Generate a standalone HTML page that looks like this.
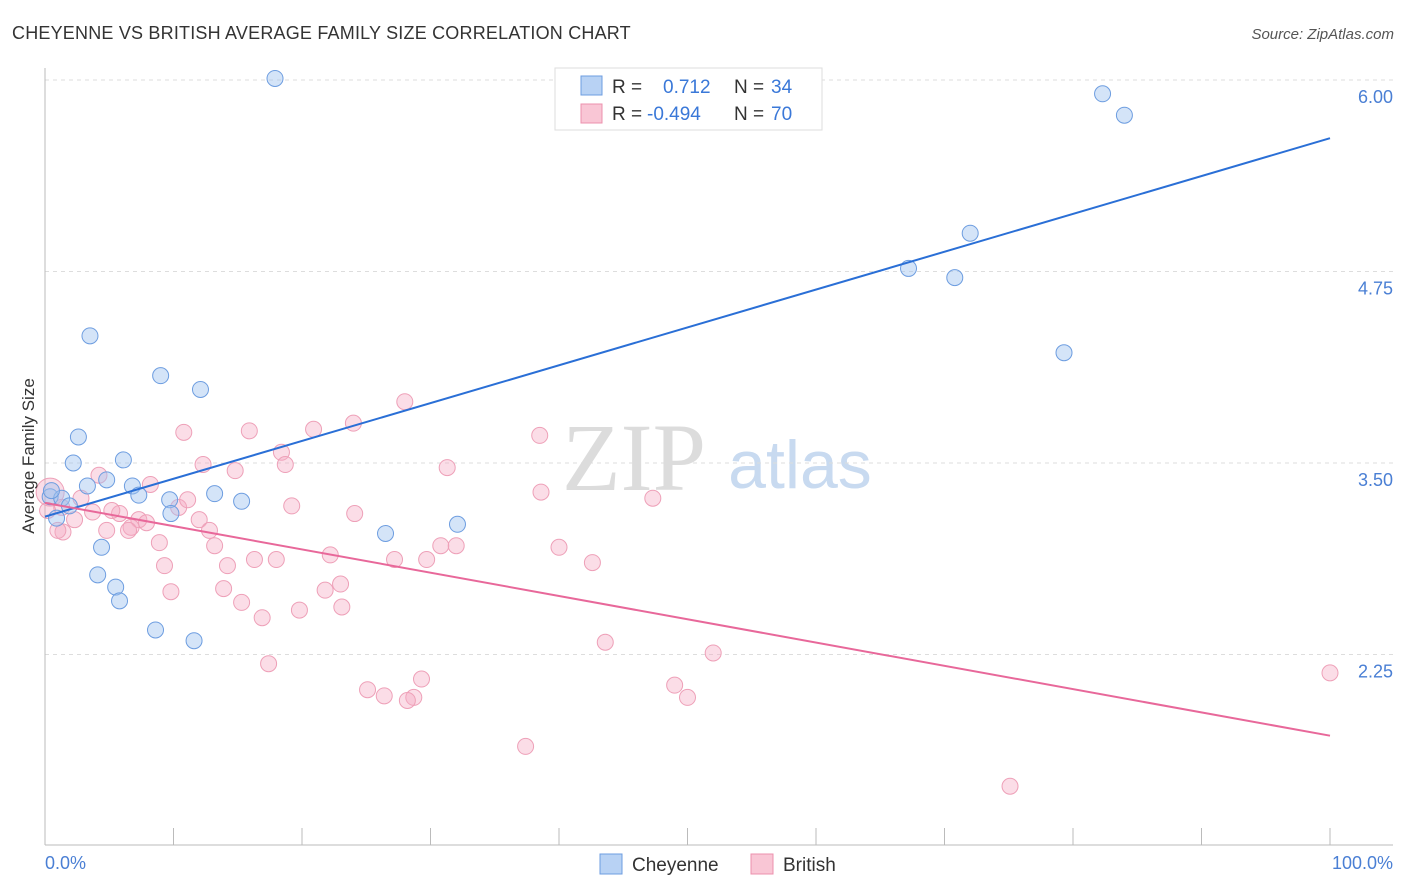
<!DOCTYPE html>
<html><head><meta charset="utf-8"><style>
body{margin:0;background:#fff;font-family:"Liberation Sans",sans-serif;}
svg{display:block}
</style></head><body>
<svg id="c" width="1406" height="892" xmlns="http://www.w3.org/2000/svg">
<text x="12" y="39" font-size="18" fill="#333" letter-spacing="0.2">CHEYENNE VS BRITISH AVERAGE FAMILY SIZE CORRELATION CHART</text>
<text x="1394" y="39" font-size="15" fill="#555" font-style="italic" text-anchor="end">Source: ZipAtlas.com</text>
<text x="634" y="490" font-size="96" fill="#dcdcdc" font-family="Liberation Serif,serif" text-anchor="middle">ZIP</text>
<text x="800" y="488" font-size="68" fill="#c8daf0" text-anchor="middle">atlas</text>
<g id="grid"></g><g id="axes"></g><g id="pts"></g><g id="lines"></g>
<text x="34" y="456" font-size="17" fill="#333" transform="rotate(-90 34 456)" text-anchor="middle">Average Family Size</text>
<text x="45" y="869" font-size="18" fill="#4a7fd4">0.0%</text>
<text x="1393" y="869" font-size="18" fill="#4a7fd4" text-anchor="end">100.0%</text>
<g>
<rect x="555" y="68" width="267" height="62" fill="#fff" stroke="#ddd"/>
<rect x="581" y="76" width="21" height="19" fill="#b8d2f4" stroke="#6d9de0"/>
<rect x="581" y="104" width="21" height="19" fill="#f9c6d5" stroke="#ec90ad"/>
<text x="612" y="93" font-size="19" fill="#333">R = </text><text x="663" y="93" font-size="19" fill="#3a78d8">0.712</text>
<text x="734" y="93" font-size="19" fill="#333">N = </text><text x="771" y="93" font-size="19" fill="#3a78d8">34</text>
<text x="612" y="120" font-size="19" fill="#333">R = </text><text x="647" y="120" font-size="19" fill="#3a78d8">-0.494</text>
<text x="734" y="120" font-size="19" fill="#333">N = </text><text x="771" y="120" font-size="19" fill="#3a78d8">70</text>
</g>
<g>
<rect x="600" y="854" width="22" height="20" fill="#b8d2f4" stroke="#6d9de0"/>
<text x="632" y="871" font-size="19" fill="#333">Cheyenne</text>
<rect x="751" y="854" width="22" height="20" fill="#f9c6d5" stroke="#ec90ad"/>
<text x="783" y="871" font-size="19" fill="#333">British</text>
</g>
</svg>
<script>
const yTicks=[6.00,4.75,3.50,2.25];
const cheyX=[17.9,82.3,84.0,72.0,67.2,70.8,79.3,3.5,9.0,12.1,2.6,2.2,6.1,4.8,3.3,6.8,7.3,0.4,1.3,1.9,13.2,15.3,9.7,9.8,0.9,32.1,26.5,4.4,4.1,5.5,5.8,8.6,11.6,0.5];
const cheyY=[6.01,5.91,5.77,5.00,4.77,4.71,4.22,4.33,4.07,3.98,3.67,3.50,3.52,3.39,3.35,3.35,3.29,3.28,3.27,3.22,3.30,3.25,3.26,3.17,3.14,3.10,3.04,2.95,2.77,2.69,2.60,2.41,2.34,3.32];
const britX=[0.4,28.0,38.5,15.9,20.9,24.0,10.8,12.3,18.4,18.7,31.3,14.8,4.2,8.2,2.8,1.3,3.7,2.3,5.8,10.4,11.1,19.2,24.1,38.6,47.3,12.0,7.3,7.9,4.8,6.7,6.5,12.8,1.4,1.0,13.2,8.9,30.8,32.0,40.0,22.2,16.3,18.0,27.2,29.7,42.6,9.3,14.2,23.0,9.8,13.9,21.8,15.3,19.8,23.1,16.9,43.6,52.0,17.4,25.1,26.4,29.3,28.7,28.2,49.0,50.0,37.4,75.1,100,5.2,0.2];
const britY=[3.31,3.90,3.68,3.71,3.72,3.76,3.70,3.49,3.57,3.49,3.47,3.45,3.42,3.36,3.27,3.21,3.18,3.13,3.17,3.21,3.26,3.22,3.17,3.31,3.27,3.13,3.13,3.11,3.06,3.08,3.06,3.06,3.05,3.06,2.96,2.98,2.96,2.96,2.95,2.90,2.87,2.87,2.87,2.87,2.85,2.83,2.83,2.71,2.66,2.68,2.67,2.59,2.54,2.56,2.49,2.33,2.26,2.19,2.02,1.98,2.09,1.97,1.95,2.05,1.97,1.65,1.39,2.13,3.19,3.19];
const cheyLine=[3.15,5.62];
const britLine=[3.24,1.72];
const X=p=>45+p*12.85, Y=v=>80+(6-v)*153.2;
const NS='http://www.w3.org/2000/svg';
function mk(t,a,parent){const e=document.createElementNS(NS,t);for(const k in a)e.setAttribute(k,a[k]);document.getElementById(parent).appendChild(e);return e;}
yTicks.forEach(v=>{
 const l=mk('line',{x1:45,x2:1393,y1:Y(v),y2:Y(v),stroke:'#ddd','stroke-dasharray':'4,4'},'grid');
 
 
 const t=mk('text',{x:1393,y:Y(v)+23,'font-size':18,fill:'#4a7fd4','text-anchor':'end'},'grid');
 t.textContent=v.toFixed(2);
 
 
});
const ax=mk('line',{x1:45,x2:1393,y1:845,y2:845,stroke:'#bbb'},'axes');


const ay=mk('line',{x1:45,x2:45,y1:68,y2:845,stroke:'#bbb'},'axes');


for(let i=0;i<=10;i++){const t=mk('line',{x1:X(i*10),x2:X(i*10),y1:828,y2:845,stroke:'#bbb'},'axes');
 
 }
britX.forEach((x,i)=>{const c=mk('circle',{cx:X(x),cy:Y(britY[i]),r:i==0?14:8,fill:'rgba(246,170,195,0.4)',stroke:'#eea0b8','stroke-width':1},'pts');
 
 });
cheyX.forEach((x,i)=>{const c=mk('circle',{cx:X(x),cy:Y(cheyY[i]),r:8,fill:'rgba(160,195,240,0.45)',stroke:'#6d9de0','stroke-width':1},'pts');
 
 });
const l1=mk('line',{x1:X(0),y1:Y(cheyLine[0]),x2:X(100),y2:Y(cheyLine[1]),stroke:'#2a6fd6','stroke-width':2},'lines');


const l2=mk('line',{x1:X(0),y1:Y(britLine[0]),x2:X(100),y2:Y(britLine[1]),stroke:'#e8689a','stroke-width':2},'lines');


</script>
</body></html>
